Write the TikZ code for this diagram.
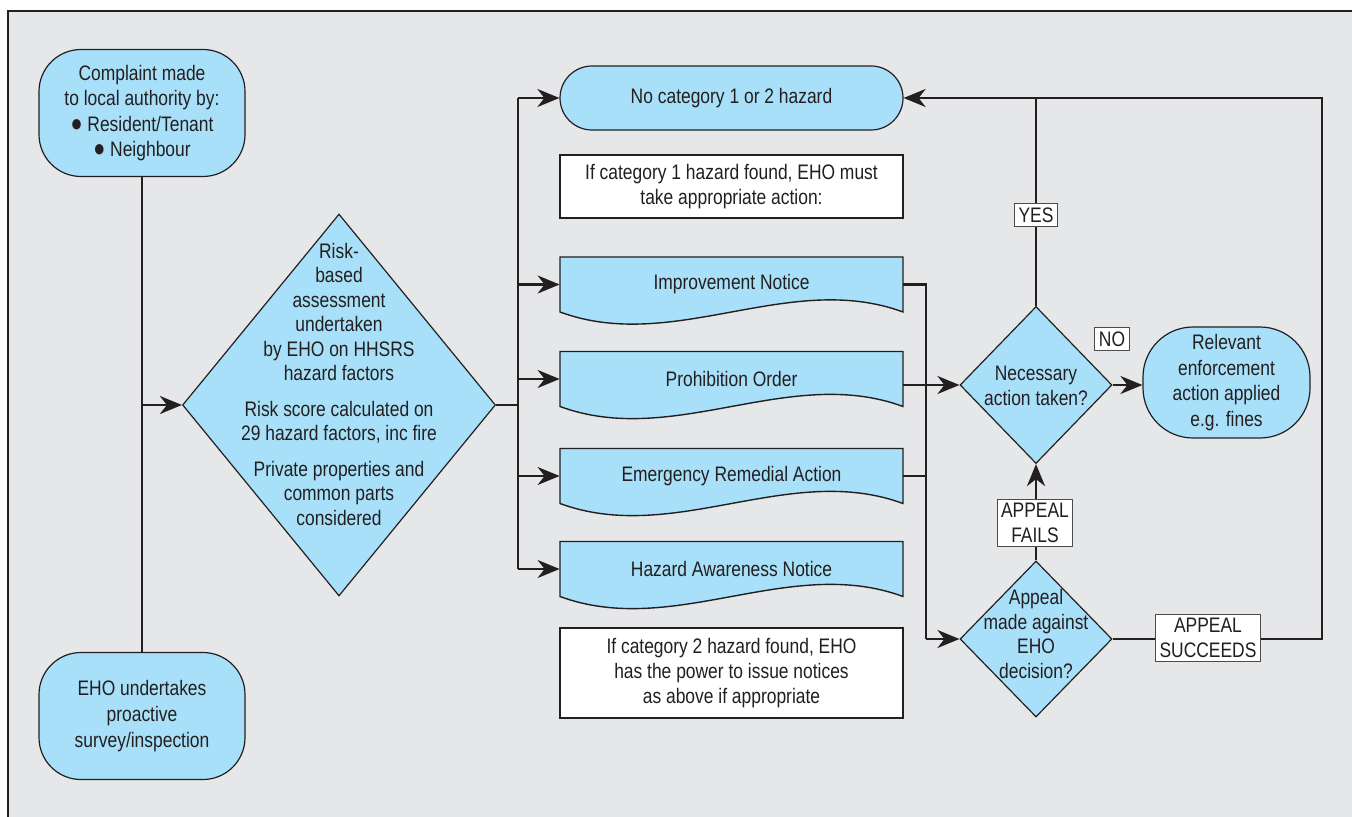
\documentclass[tikz,border=0pt]{standalone}
\usepackage{fontspec}
\setmainfont[FakeStretch=0.83]{Liberation Sans}
\usetikzlibrary{shapes.geometric,arrows.meta,calc,positioning}
\definecolor{ink}{HTML}{231F20}
\definecolor{panel}{HTML}{E6E7E8}
\definecolor{skyfill}{HTML}{A9E0F9}
\newcommand{\blob}{{\fontsize{12}{12}\selectfont ●}}

\begin{document}
\begin{tikzpicture}[x=0.5pt,y=-0.5pt,
    font=\fontsize{10.5}{12.8}\selectfont, text=ink,
    term/.style={draw=ink, line width=0.6pt, fill=skyfill, rounded corners=21pt,
        minimum width=103pt, minimum height=63.5pt, inner sep=2pt, align=center},
    note/.style={draw=ink, line width=0.6pt, fill=white, minimum width=171.5pt,
        inner sep=2pt, align=center, font=\fontsize{10.5}{12.4}\selectfont},
    docbox/.style={minimum width=171.5pt, minimum height=27.5pt, inner sep=0pt},
    docshape/.style={draw=ink, line width=0.7pt, fill=skyfill},
    decision/.style={diamond, draw=ink, line width=0.6pt, fill=skyfill, inner sep=0pt},
    tag/.style={draw=black!70, line width=0.5pt, fill=white, inner sep=2pt,
        align=center, font=\fontsize{10.5}{12.2}\selectfont},
    link/.style={draw=ink, line width=1.2pt},
    flow/.style={link, -{Stealth[length=11pt,width=9pt,inset=3.5pt]}}
]
\useasboundingbox (0,0) rectangle (1352,817);
\fill[panel] (8,11) rectangle (1352,817);
\draw[ink, line width=1pt] (8,817) -- (8,11) -- (1352,11);

% sources
\node[term] (complaint) at (142,113) {Complaint made\\to local authority by:\\\blob{} Resident/Tenant\\\blob{} Neighbour};
\node[term] (survey) at (142,716) {EHO undertakes\\proactive\\survey/inspection};

% assessment
\node[decision, minimum width=156.5pt, minimum height=191pt] (risk) at (339,405) {};
\node[align=center, font=\fontsize{10.5}{12.25}\selectfont] (riskText) at (339,384)
    {Risk-\\based\\assessment\\undertaken\\by EHO on HHSRS\\hazard factors\\[5.5pt]Risk score calculated on\\29 hazard factors, inc fire\\[5.5pt]Private properties and\\common parts\\considered};

% outcomes
\node[term, rounded corners=16pt, minimum width=171.5pt, minimum height=32pt] (none) at (731.5,98) {No category 1 or 2 hazard};
\node[note, minimum height=31.5pt] (cat1) at (731.5,186.5) {If category 1 hazard found, EHO must\\take appropriate action:};
\foreach \name/\yy/\txt in {impr/284.5/Improvement Notice, prohib/379/Prohibition Order,
        emerg/476/Emergency Remedial Action, aware/569/Hazard Awareness Notice} {
    \draw[docshape] (560,\yy-27.5) -- (560,\yy+27.5)
        .. controls (674,\yy+69.5) and (789,\yy-14.5) .. (903,\yy+27.5)
        -- (903,\yy-27.5) -- cycle;
    \node[docbox] (\name) at (731.5,\yy) {\txt};
}
\node[note, minimum height=45pt] (cat2) at (731.5,673) {If category 2 hazard found, EHO\\has the power to issue notices\\as above if appropriate};

% decisions
\node[decision, minimum width=76pt, minimum height=78.5pt] (necessary) at (1036,385) {};
\node[align=center] (necessaryText) at (1036,386) {Necessary\\action taken?};
\node[decision, minimum width=76pt, minimum height=78pt] (appeal) at (1036,639) {};
\node[align=center, font=\fontsize{10.5}{12.25}\selectfont] (appealText) at (1036,634) {Appeal\\made against\\EHO\\decision?};
\node[term, minimum width=83.5pt, minimum height=55.5pt, rounded corners=25pt] (relevant) at (1226.5,382.5)
    {Relevant\\enforcement\\action applied\\e.g. fines};

% connectors, left half
\coordinate (leftBus) at (complaint.south |- risk.west);
\coordinate (fork) at (518,405);
\draw[link] (complaint) -- (survey);
\draw[flow] (leftBus) -- (risk.west);
\draw[link] (risk.east) -- (fork);
\draw[link] (fork |- none.west) -- (fork |- aware.west);
\foreach \t in {none,impr,prohib,emerg,aware}
    \draw[flow] (fork |- \t.west) -- (\t.west);

% connectors, right half
\coordinate (rightBus) at (926,0);
\coordinate (outerBus) at (1322,0);
\draw[link] (impr.east) -- (rightBus |- impr.east) -- (rightBus |- appeal.west);
\draw[flow] (rightBus |- appeal.west) -- (appeal.west);
\draw[link] (emerg.east) -- (rightBus |- emerg.east);
\draw[flow] (prohib.east |- necessary.west) -- (necessary.west);
\draw[flow] (necessary.east) -- (necessary.east -| relevant.west);
\draw[flow] (appeal.north) -- (necessary.south);
\draw[link] (necessary.north) -- (necessary.north |- none.east);
\draw[flow] (appeal.east) -- (outerBus |- appeal.east) -- (outerBus |- none.east) -- (none.east);

% labels
\node[tag] (yes) at (1036,215) {YES};
\node[tag] (no) at (1112,339) {NO};
\node[tag] (fails) at (1035,523) {APPEAL\\FAILS};
\node[tag] (succeeds) at (1208,638) {APPEAL\\SUCCEEDS};
\end{tikzpicture}
\end{document}
